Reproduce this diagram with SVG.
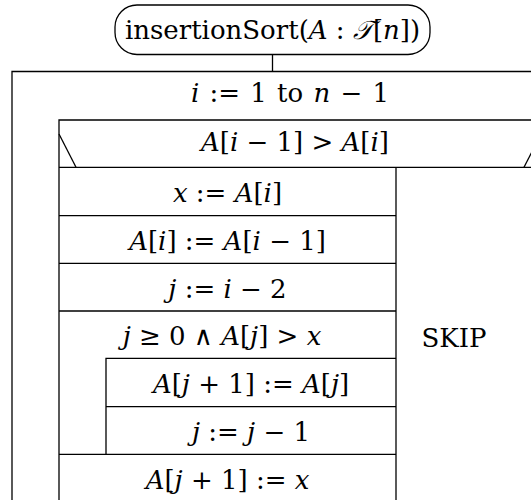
<svg xmlns="http://www.w3.org/2000/svg" width="531" height="500" viewBox="0 0 531 500">
<style>
.ln{stroke:#000;stroke-width:1.3;fill:none}
.t{font-family:'DejaVu Serif','Liberation Serif',serif;font-size:26px;fill:#000;text-anchor:middle}
.i{font-style:italic}
</style>
<rect width="531" height="500" fill="#fff"/>
<g id="start">
<rect class="ln" x="115" y="5" width="315" height="49.5" rx="22" ry="22"/>
<text class="t" x="272.5" y="39" font-size="27">insertionSort(<tspan class="i">A</tspan> : <tspan class="i">𝒯</tspan>[<tspan class="i">n</tspan>])</text>
</g>
<g id="connectors">
<line class="ln" x1="272.5" y1="54.5" x2="272.5" y2="71.5"/>
</g>
<g id="loop-for">
<path class="ln" d="M12 510 V71.5 H540"/>
<text class="t" x="290" y="102" font-size="28" word-spacing="2"><tspan class="i">i</tspan> := 1 to <tspan class="i">n</tspan> − 1</text>
</g>
<g id="if">
<path class="ln" d="M59 510 V120 H540"/>
<line class="ln" x1="59" y1="167.3" x2="540" y2="167.3"/>
<line class="ln" x1="59" y1="134" x2="76" y2="167.3"/>
<line class="ln" x1="524" y1="167.3" x2="541" y2="134"/>
<line class="ln" x1="396" y1="167.3" x2="396" y2="510"/>
<text class="t" x="295" y="151"><tspan class="i">A</tspan>[<tspan class="i">i</tspan> − 1] &gt; <tspan class="i">A</tspan>[<tspan class="i">i</tspan>]</text>
</g>
<g id="else-skip">
<text class="t" x="454" y="347">SKIP</text>
</g>
<g id="s1">
<line class="ln" x1="59" y1="215.7" x2="396" y2="215.7"/>
<text class="t" x="227.5" y="202"><tspan class="i">x</tspan> := <tspan class="i">A</tspan>[<tspan class="i">i</tspan>]</text>
</g>
<g id="s2">
<line class="ln" x1="59" y1="263.3" x2="396" y2="263.3"/>
<text class="t" x="227.5" y="250"><tspan class="i">A</tspan>[<tspan class="i">i</tspan>] := <tspan class="i">A</tspan>[<tspan class="i">i</tspan> − 1]</text>
</g>
<g id="s3">
<line class="ln" x1="59" y1="311" x2="396" y2="311"/>
<text class="t" x="227.5" y="298"><tspan class="i">j</tspan> := <tspan class="i">i</tspan> − 2</text>
</g>
<g id="while">
<path class="ln" d="M396 358.3 H106 V454.3"/>
<line class="ln" x1="59" y1="454.3" x2="396" y2="454.3"/>
<text class="t" x="222" y="345"><tspan class="i">j</tspan> ≥ 0 ∧ <tspan class="i">A</tspan>[<tspan class="i">j</tspan>] &gt; <tspan class="i">x</tspan></text>
</g>
<g id="w1">
<line class="ln" x1="106" y1="406.7" x2="396" y2="406.7"/>
<text class="t" x="251" y="393"><tspan class="i">A</tspan>[<tspan class="i">j</tspan> + 1] := <tspan class="i">A</tspan>[<tspan class="i">j</tspan>]</text>
</g>
<g id="w2">
<text class="t" x="251" y="441"><tspan class="i">j</tspan> := <tspan class="i">j</tspan> − 1</text>
</g>
<g id="s4">
<text class="t" x="227.5" y="489"><tspan class="i">A</tspan>[<tspan class="i">j</tspan> + 1] := <tspan class="i">x</tspan></text>
</g>
</svg>
